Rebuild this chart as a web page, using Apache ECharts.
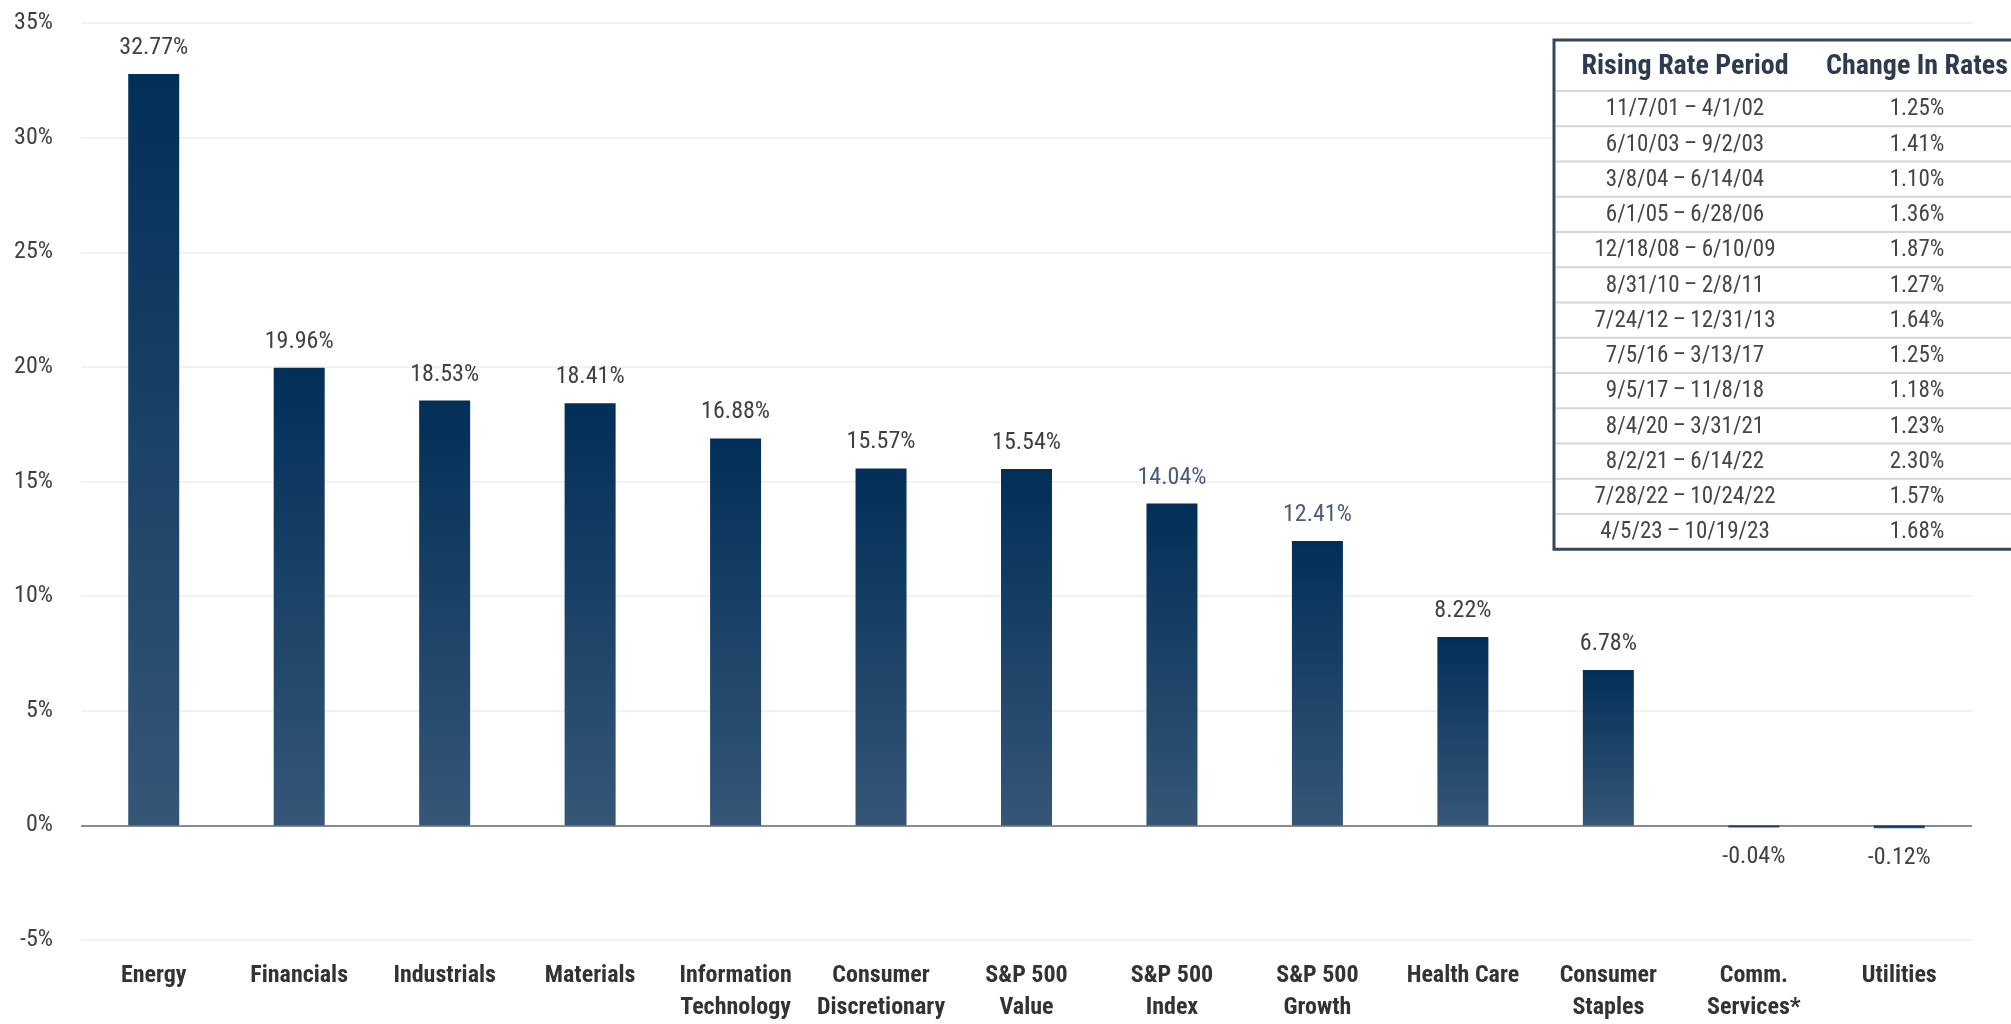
<!DOCTYPE html>
<html>
<head>
<meta charset="utf-8">
<script src="https://cdn.jsdelivr.net/npm/echarts@6/dist/echarts.min.js"></script>
<style>
html,body{margin:0;padding:0;background:#fff;}
#chart{width:2011px;height:1024px;}
</style>
</head>
<body>
<div id="chart"></div>
<script>
var categories = ['Energy','Financials','Industrials','Materials','Information\nTechnology','Consumer\nDiscretionary','S&P 500\nValue','S&P 500\nIndex','S&P 500\nGrowth','Health Care','Consumer\nStaples','Comm.\nServices*','Utilities'];
var values = [32.77,19.96,18.53,18.41,16.88,15.57,15.54,14.04,12.41,8.22,6.78,-0.04,-0.12];
var labelBlue = ['S&P 500\nIndex','S&P 500\nGrowth'];
var yTicks = [-5,0,5,10,15,20,25,30,35];

var tableHeaders = ['Rising Rate Period','Change In Rates'];
var periods = ['11/7/01\u2009\u2013\u20094/1/02','6/10/03\u2009\u2013\u20099/2/03','3/8/04\u2009\u2013\u20096/14/04','6/1/05\u2009\u2013\u20096/28/06','12/18/08\u2009\u2013\u20096/10/09','8/31/10\u2009\u2013\u20092/8/11','7/24/12\u2009\u2013\u200912/31/13','7/5/16\u2009\u2013\u20093/13/17','9/5/17\u2009\u2013\u200911/8/18','8/4/20\u2009\u2013\u20093/31/21','8/2/21\u2009\u2013\u20096/14/22','7/28/22\u2009\u2013\u200910/24/22','4/5/23\u2009\u2013\u200910/19/23'];
var rateChanges = ['1.25%','1.41%','1.10%','1.36%','1.87%','1.27%','1.64%','1.25%','1.18%','1.23%','2.30%','1.57%','1.68%'];

var FONT = "'Roboto Condensed','Open Sans Condensed','DejaVu Sans Condensed',sans-serif";

var chart = echarts.init(document.getElementById('chart'));

var barData = values.map(function(v, i){
  var blue = labelBlue.indexOf(categories[i]) >= 0;
  return {
    value: v,
    label: {
      position: v < 0 ? 'bottom' : 'top',
      distance: v < 0 ? 18 : 14,
      color: blue ? '#4b5b78' : '#404040'
    }
  };
});

// table graphics
var tX = 1554, tY = 40, tW = 520, headH = 51, rowH = 35.25;
var col1 = 1685, col2 = 1917;
var tableH = headH + rowH * periods.length;
var g = [];
g.push({type:'rect', shape:{x:tX, y:tY, width:tW, height:tableH}, style:{fill:'#ffffff', stroke:'#38455a', lineWidth:3}, z:10});
g.push({type:'text', z:11, style:{text:tableHeaders[0], x:col1, y:tY+headH/2+1, textAlign:'center', textVerticalAlign:'middle', font:'bold 28px '+FONT, fill:'#2d3a4f'}});
g.push({type:'text', z:11, style:{text:tableHeaders[1], x:col2, y:tY+headH/2+1, textAlign:'center', textVerticalAlign:'middle', font:'bold 28px '+FONT, fill:'#2d3a4f'}});
periods.forEach(function(p, i){
  var y0 = tY + headH + rowH * i;
  g.push({type:'line', z:11, shape:{x1:tX+2, y1:y0, x2:tX+tW, y2:y0}, style:{stroke:'#d6d6d6', lineWidth:2}});
  g.push({type:'text', z:11, style:{text:p, x:col1, y:y0+rowH/2+1, textAlign:'center', textVerticalAlign:'middle', font:'23px '+FONT, fill:'#454545'}});
  g.push({type:'text', z:11, style:{text:rateChanges[i], x:col2, y:y0+rowH/2+1, textAlign:'center', textVerticalAlign:'middle', font:'23px '+FONT, fill:'#454545'}});
});

chart.setOption({
  animation: false,
  backgroundColor: '#ffffff',
  grid: {left: 81, right: 39, top: 23, bottom: 81, containLabel: false},
  xAxis: {
    type: 'category',
    data: categories,
    axisLine: {show: false},
    axisTick: {show: false},
    axisLabel: {
      interval: 0,
      margin: 20,
      fontFamily: FONT,
      fontWeight: 'bold',
      fontSize: 24,
      lineHeight: 32,
      color: '#333333'
    }
  },
  yAxis: {
    type: 'value',
    min: yTicks[0],
    max: yTicks[yTicks.length-1],
    interval: 5,
    axisLine: {show: false},
    axisTick: {show: false},
    axisLabel: {
      margin: 28,
      fontFamily: FONT,
      fontSize: 24,
      color: '#404040',
      formatter: function(v){ return v + '%'; }
    },
    splitLine: {
      lineStyle: {color: '#eeeeee', width: 1.5}
    }
  },
  series: [{
    type: 'bar',
    data: barData,
    barWidth: 51,
    barMinHeight: 2,
    itemStyle: {
      color: new echarts.graphic.LinearGradient(0, 0, 0, 1, [
        {offset: 0, color: '#022f58'},
        {offset: 1, color: '#355677'}
      ])
    },
    label: {
      show: true,
      fontFamily: FONT,
      fontSize: 24,
      formatter: function(p){ return p.value.toFixed(2) + '%'; }
    },
    markLine: {
      silent: true,
      symbol: 'none',
      z: 1,
      label: {show: false},
      lineStyle: {color: '#8c8c8c', width: 2, type: 'solid'},
      data: [{yAxis: 0}]
    }
  }],
  graphic: g
});
</script>
</body>
</html>
